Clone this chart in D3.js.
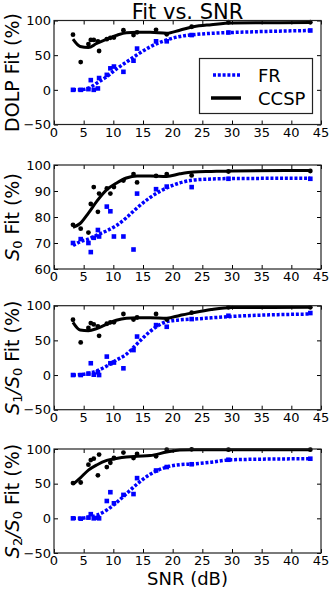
<!DOCTYPE html>
<html>
<head>
<meta charset="utf-8">
<script src="https://cdn.jsdelivr.net/npm/d3@7/dist/d3.min.js"></script>
<style>
  body { margin: 0; background: #fff; }
  text { font-family: "DejaVu Sans", sans-serif; fill: #000; }
</style>
</head>
<body>
<div id="chart"></div>
<script>
// measured SNR of each test point (dB)
var snr = [3.2, 4.5, 5.8, 6.2, 6.7, 7.4, 7.6, 8.9, 9.5, 10.1, 11.7, 13.4, 14.0, 17.2, 19.0, 23.2, 29.4, 43.2];
// SNR grid of the fitted curves
var fitSnr = [3.2, 4.4, 5.8, 7.2, 8.9, 10.5, 12.2, 14, 16.2, 19, 21.2, 23.5, 26.5, 30, 43.2];

var xTicks = [0, 5, 10, 15, 20, 25, 30, 35, 40, 45];
var yTicksWide = [-50, 0, 50, 100];
var yTicksS0 = [60, 70, 80, 90, 100];

// DOLP
var dolpCcsp = [79.5, 40, 66, 72, 72, 70, 56, 73, 75, 75.5, 86, 79, 83, 86.5, 80, 91, 97.5, 97.5];
var dolpFr = [0, 0, 1, 14, 0, 2, 17, 21.6, 31, 33.6, 26, 42, 59.5, 70, 70, 79, 82.7, 85.6];
var dolpCcspFit = [73, 62.5, 61, 67, 73, 78.5, 82.5, 83, 83, 81.7, 86, 91, 94, 96.5, 97];
var dolpFrFit = [0, 0, 2.4, 9.6, 19, 30, 40, 50.5, 62, 72, 77, 79.5, 81.5, 82.7, 85.6];

// S0
var s0Ccsp = [77, 75.5, 74, 85, 91.5, 82, 89, 91, 89, 91.5, 94, 96.5, 93.3, 95.8, 96.5, 96, 97.5, 97.7];
var s0Fr = [70, 71.5, 70, 66.5, 72, 75, 72.5, 84, 82.2, 72.5, 72.5, 67.5, 89, 90.7, 91.7, 91.5, 94.7, 94.7];
var s0CcspFit = [76, 77.5, 81.5, 86, 90.5, 93, 95, 95.8, 95.8, 95.6, 96.6, 97.3, 97.5, 97.7, 97.9];
var s0FrFit = [69, 70.5, 71.5, 73, 74.7, 76.7, 79.7, 83.5, 87.5, 91.2, 93.1, 94.2, 94.6, 94.8, 94.9];

// S1/S0
var s1Ccsp = [79.7, 47, 68, 75, 73, 70, 56.5, 74, 76, 76, 88, 80, 83, 88, 80, 90, 97.6, 97.6];
var s1Fr = [0, 0, 2, 17, 0.5, 4, 0, 26.6, 17, 18, 9.7, 36, 55.5, 72, 69.6, 80.7, 85.5, 89.4];
var s1CcspFit = [76, 65, 64, 67, 73.4, 79, 82, 82.6, 82.6, 82, 86, 90, 94.5, 97.5, 97.6];
var s1FrFit = [0, 0.5, 2.5, 6, 13, 21.5, 30, 45, 63, 77, 79.5, 80.7, 82.5, 84.5, 88];

// S2/S0
var s2Ccsp = [50.8, 51.7, 77.4, 84, 86, 62, 92, 74, 80, 87, 94.8, 87, 92.9, 89.4, 99, 99.5, 99, 99];
var s2Fr = [0, -0.5, 1, 6, 0, 1, 0, 25, 37.7, 21.7, 33.8, 35, 58, 69, 74, 78, 84.5, 86];
var s2CcspFit = [49, 58, 69.5, 77, 83.6, 86.2, 88.3, 89.5, 90.5, 95.6, 98.5, 99, 99, 99, 99];
var s2FrFit = [0, 0, 1.5, 4.5, 12, 22.5, 35.5, 49.5, 63.5, 74, 77.3, 78.5, 81, 84.5, 86];

var panels = [
    { top: 20.5, domain: [-50, 100], ticks: yTicksWide, label: "dolp",
      ccsp: dolpCcsp, fr: dolpFr, ccspFit: dolpCcspFit, frFit: dolpFrFit },
    { top: 165, domain: [60, 100], ticks: yTicksS0, label: "s0",
      ccsp: s0Ccsp, fr: s0Fr, ccspFit: s0CcspFit, frFit: s0FrFit },
    { top: 305.7, domain: [-50, 100], ticks: yTicksWide, label: "s1",
      ccsp: s1Ccsp, fr: s1Fr, ccspFit: s1CcspFit, frFit: s1FrFit },
    { top: 449, domain: [-50, 100], ticks: yTicksWide, label: "s2",
      ccsp: s2Ccsp, fr: s2Fr, ccspFit: s2CcspFit, frFit: s2FrFit }
];

var width = 332, height = 590,
    left = 54, right = 321, panelH = 104;

var svg = d3.select("#chart")
    .append("svg")
    .attr("width", width)
    .attr("height", height);

var x = d3.scaleLinear().domain([0, 45]).range([left, right]);
var fmt = function (d) { return d < 0 ? "\u2212" + Math.abs(d) : d; };

svg.append("text")
    .attr("x", (left + right) / 2)
    .attr("y", 19)
    .attr("text-anchor", "middle")
    .style("font-size", "21px")
    .text("Fit vs. SNR");

panels.forEach(function (p) {
    var y = d3.scaleLinear().domain(p.domain).range([p.top + panelH, p.top]);
    var g = svg.append("g");

    // inward ticks on all four sides
    g.append("g")
        .attr("transform", "translate(0," + (p.top + panelH) + ")")
        .call(d3.axisTop(x).tickValues(xTicks).tickSize(4).tickFormat(""))
        .call(function (a) { a.select(".domain").remove(); });
    g.append("g")
        .attr("transform", "translate(0," + p.top + ")")
        .call(d3.axisBottom(x).tickValues(xTicks).tickSize(4).tickFormat(""))
        .call(function (a) { a.select(".domain").remove(); });
    g.append("g")
        .attr("transform", "translate(" + left + ",0)")
        .call(d3.axisRight(y).tickValues(p.ticks).tickSize(4).tickFormat(""))
        .call(function (a) { a.select(".domain").remove(); });
    g.append("g")
        .attr("transform", "translate(" + right + ",0)")
        .call(d3.axisLeft(y).tickValues(p.ticks).tickSize(4).tickFormat(""))
        .call(function (a) { a.select(".domain").remove(); });

    // tick labels
    g.selectAll(".xl")
        .data(xTicks)
        .enter().append("text")
        .attr("x", function (d) { return x(d); })
        .attr("y", p.top + panelH + 12)
        .attr("text-anchor", "middle")
        .style("font-size", "13px")
        .text(fmt);
    g.selectAll(".yl")
        .data(p.ticks)
        .enter().append("text")
        .attr("x", left - 3)
        .attr("y", function (d) { return y(d); })
        .attr("dy", "0.36em")
        .attr("text-anchor", "end")
        .style("font-size", "13px")
        .text(fmt);

    // fitted curves
    g.append("path")
        .datum(d3.zip(fitSnr, p.frFit))
        .attr("fill", "none")
        .attr("stroke", "#0000ff")
        .attr("stroke-width", 3.5)
        .attr("stroke-dasharray", "3,1.8")
        .attr("d", d3.line()
            .x(function (d) { return x(d[0]); })
            .y(function (d) { return y(d[1]); })
            .curve(d3.curveMonotoneX));
    g.append("path")
        .datum(d3.zip(fitSnr, p.ccspFit))
        .attr("fill", "none")
        .attr("stroke", "#000")
        .attr("stroke-width", 3)
        .attr("d", d3.line()
            .x(function (d) { return x(d[0]); })
            .y(function (d) { return y(d[1]); })
            .curve(d3.curveMonotoneX));

    // measured points
    g.selectAll(".fr")
        .data(d3.zip(snr, p.fr))
        .enter().append("rect")
        .attr("x", function (d) { return x(d[0]) - 2.3; })
        .attr("y", function (d) { return y(d[1]) - 2.3; })
        .attr("width", 4.6)
        .attr("height", 4.6)
        .attr("fill", "#0000ff");
    g.selectAll(".cc")
        .data(d3.zip(snr, p.ccsp))
        .enter().append("circle")
        .attr("cx", function (d) { return x(d[0]); })
        .attr("cy", function (d) { return y(d[1]); })
        .attr("r", 2.4)
        .attr("fill", "#000");

    // frame
    g.append("rect")
        .attr("x", left)
        .attr("y", p.top)
        .attr("width", right - left)
        .attr("height", panelH)
        .attr("fill", "none")
        .attr("stroke", "#222")
        .attr("stroke-width", 1.2);

    // y label
    var lab = g.append("text")
        .attr("transform", "translate(19," + (p.top + panelH / 2) + ") rotate(-90)")
        .attr("text-anchor", "middle")
        .style("font-size", "19px");
    if (p.label === "dolp") {
        lab.text("DOLP Fit (%)");
    } else {
        var sub = p.label === "s0" ? "0" : (p.label === "s1" ? "1" : "2");
        lab.append("tspan").style("font-style", "italic").text("S");
        lab.append("tspan").attr("baseline-shift", "-25%").style("font-size", "13px").text(sub);
        if (p.label !== "s0") {
            lab.append("tspan").style("font-style", "italic").text("/S");
            lab.append("tspan").attr("baseline-shift", "-25%").style("font-size", "13px").text("0");
        }
        lab.append("tspan").text(" Fit (%)");
    }
});

// x label
svg.append("text")
    .attr("x", (left + right) / 2)
    .attr("y", 585)
    .attr("text-anchor", "middle")
    .style("font-size", "18px")
    .text("SNR (dB)");

// legend
var leg = svg.append("g");
leg.append("rect")
    .attr("x", 199.5).attr("y", 58.5)
    .attr("width", 113).attr("height", 55)
    .attr("fill", "#fff")
    .attr("stroke", "#222")
    .attr("stroke-width", 1.2);
leg.append("line")
    .attr("x1", 213).attr("x2", 241).attr("y1", 75).attr("y2", 75)
    .attr("stroke", "#0000ff").attr("stroke-width", 3.5)
    .attr("stroke-dasharray", "3,1.8");
leg.append("line")
    .attr("x1", 211).attr("x2", 241).attr("y1", 98).attr("y2", 98)
    .attr("stroke", "#000").attr("stroke-width", 3.5);
leg.append("text").attr("x", 258).attr("y", 81.5)
    .style("font-size", "18px").text("FR");
leg.append("text").attr("x", 258).attr("y", 104.5)
    .style("font-size", "18px").text("CCSP");
</script>
</body>
</html>
